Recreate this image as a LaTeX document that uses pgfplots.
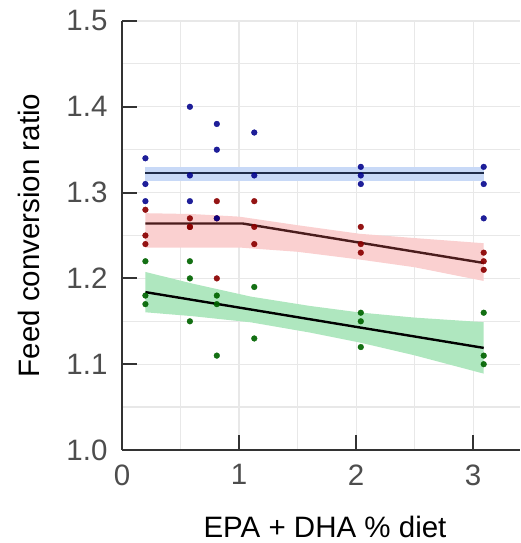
\documentclass[border=0pt]{standalone}
\usepackage{fontspec}
\setmainfont{Liberation Sans}
\usepackage{pgfplots}
\pgfplotsset{compat=1.18}
\definecolor{tickgrey}{HTML}{4D4D4D}
\definecolor{axisgrey}{HTML}{333333}
\definecolor{gridgrey}{HTML}{E8E8E8}
\definecolor{ptblue}{HTML}{00008B}
\definecolor{ptred}{HTML}{8B0000}
\definecolor{ptgreen}{HTML}{006400}
\definecolor{bandblue}{HTML}{C8D9F7}
\definecolor{bandred}{HTML}{FAD0D0}
\definecolor{bandgreen}{HTML}{AFE7BF}
\definecolor{lineblue}{HTML}{1F2C4A}
\definecolor{linered}{HTML}{4A1C1C}
\begin{document}
\begin{tikzpicture}
\begin{axis}[
  scale only axis, width=398pt, height=429pt,
  xmin=0, xmax=3.40, ymin=1.0, ymax=1.5,
  axis x line*=bottom, axis y line*=left,
  axis line style={draw=axisgrey, line width=1.5pt, -},
  xtick={0,1,2,3}, ytick={1.0,1.1,1.2,1.3,1.4,1.5},
  minor xtick={0.5,1.5,2.5}, minor ytick={1.05,1.15,1.25,1.35,1.45},
  grid=both,
  major grid style={draw=gridgrey, line width=1.2pt},
  minor grid style={draw=gridgrey, line width=1.2pt},
  tick align=inside, major tick length=15pt, minor tick length=0pt,
  tick style={draw=axisgrey, line width=2pt},
  ticklabel style={font=\fontsize{29.5}{34}\selectfont, text=tickgrey},
  yticklabel style={xshift=-11pt, /pgf/number format/.cd, fixed, fixed zerofill, precision=1},
  xticklabel style={yshift=-11pt},
  label style={font=\fontsize{29.5}{34}\selectfont, text=black},
  xlabel style={at={(axis description cs:0.5,0)}, anchor=base, yshift=-87pt, xshift=4pt},
  ylabel style={at={(axis description cs:0,0.5)}, anchor=base, yshift=82pt},
  /pgf/number format/assume math mode=true,
  xlabel={EPA + DHA \% diet}, ylabel={Feed conversion ratio},
]
% confidence bands
\addplot[fill=bandblue, draw=none, forget plot] coordinates {
 (0.2,1.330) (3.09,1.330) (3.09,1.313) (0.2,1.313)} -- cycle;
\addplot[fill=bandred, draw=none, forget plot] coordinates {
 (0.2,1.276) (0.6,1.275) (1.0,1.272) (1.5,1.262) (2.03,1.252) (2.5,1.247) (3.09,1.241)
 (3.09,1.197) (2.5,1.213) (2.03,1.222) (1.5,1.231) (1.0,1.236) (0.6,1.236) (0.2,1.236)} -- cycle;
\addplot[fill=bandgreen, draw=none, forget plot] coordinates {
 (0.2,1.2075) (0.6,1.194) (1.1,1.1788) (1.6,1.168) (2.03,1.1603) (2.5,1.1543) (3.09,1.149)
 (3.09,1.089) (2.5,1.1103) (2.03,1.1253) (1.6,1.137) (1.1,1.1488) (0.6,1.156) (0.2,1.1605)} -- cycle;
% fitted lines
\addplot[lineblue, line width=2.4pt] coordinates {(0.2,1.3225) (3.09,1.3225)};
\addplot[linered, line width=2.4pt] coordinates {(0.2,1.264) (1.03,1.264) (3.09,1.218)};
\addplot[black, line width=2.4pt] coordinates {(0.2,1.184) (3.09,1.119)};
% observations
\addplot[only marks, color=ptred, mark=*, mark size=2.9pt, mark options={draw=ptred, fill=ptred, line width=0.3pt, opacity=0.92}] coordinates {
 (0.2,1.28) (0.2,1.25) (0.2,1.24)
 (0.58,1.27) (0.58,1.26) (0.58,1.26)
 (0.81,1.29) (0.81,1.27) (0.81,1.20)
 (1.13,1.29) (1.13,1.26) (1.13,1.24)
 (2.04,1.26) (2.04,1.24) (2.04,1.23)
 (3.09,1.23) (3.09,1.22) (3.09,1.21)};
\addplot[only marks, color=ptgreen, mark=*, mark size=2.9pt, mark options={draw=ptgreen, fill=ptgreen, line width=0.3pt, opacity=0.92}] coordinates {
 (0.2,1.22) (0.2,1.18) (0.2,1.17)
 (0.58,1.22) (0.58,1.20) (0.58,1.15)
 (0.81,1.18) (0.81,1.17) (0.81,1.11)
 (1.13,1.19) (1.13,1.13)
 (2.04,1.16) (2.04,1.15) (2.04,1.12)
 (3.09,1.16) (3.09,1.11) (3.09,1.10)};
\addplot[only marks, color=ptblue, mark=*, mark size=2.9pt, mark options={draw=ptblue, fill=ptblue, line width=0.3pt, opacity=0.88}] coordinates {
 (0.2,1.34) (0.2,1.31) (0.2,1.29)
 (0.58,1.40) (0.58,1.32) (0.58,1.29)
 (0.81,1.38) (0.81,1.35) (0.81,1.27)
 (1.13,1.37) (1.13,1.32)
 (2.04,1.33) (2.04,1.32) (2.04,1.31)
 (3.09,1.33) (3.09,1.31) (3.09,1.27)};
\end{axis}
\pgfresetboundingbox
\path[use as bounding box] ([xshift=-122pt,yshift=-93pt]current axis.south west) rectangle ([yshift=21pt]current axis.north east);
\end{tikzpicture}
\end{document}
